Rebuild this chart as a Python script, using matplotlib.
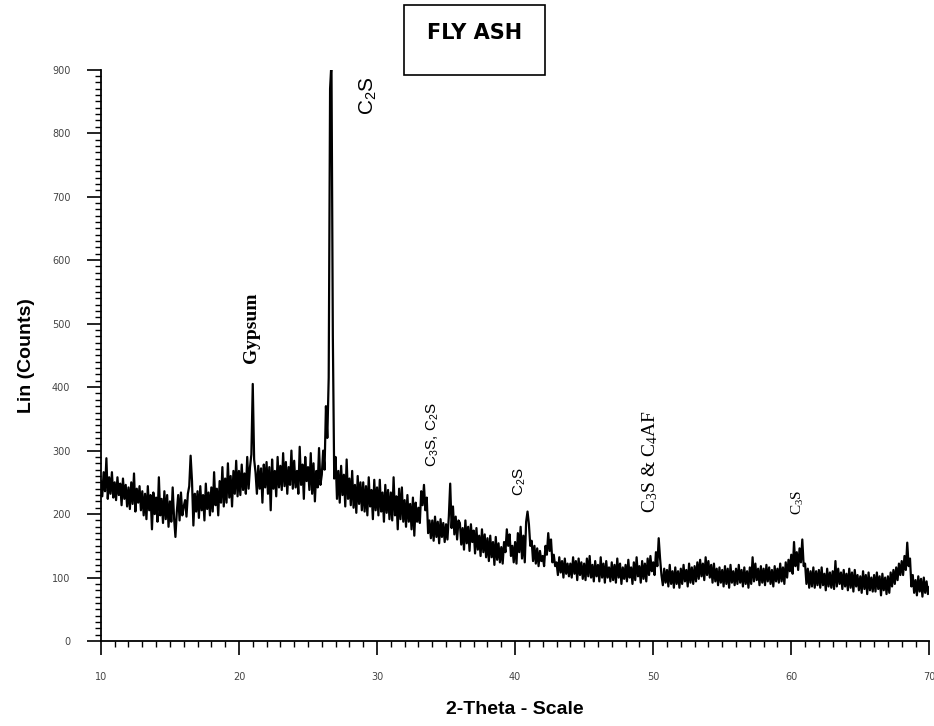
import numpy as np
import matplotlib.pyplot as plt
from matplotlib.patches import Rectangle
from matplotlib.ticker import MultipleLocator

plt.rcParams['mathtext.default'] = 'regular'

# 2-theta scan from 10 to 70 deg, 0.1 deg step
two_theta = np.round(np.arange(10, 70.05, 0.1), 1)

# counts, one row per degree (10.0 .. 10.9, 11.0 .. 11.9, ...)
counts = [
    252, 228, 266, 236, 288, 224, 258, 232, 266, 226,   # 10
    250, 222, 258, 230, 248, 214, 256, 224, 246, 212,   # 11
    242, 208, 250, 216, 264, 204, 240, 218, 244, 206,   # 12
    236, 198, 232, 192, 244, 206, 230, 176, 234, 200,   # 13
    226, 188, 258, 198, 224, 186, 236, 192, 230, 180,   # 14
    220, 188, 242, 194, 164, 204, 230, 190, 234, 198,   # 15
    212, 222, 196, 232, 244, 292, 252, 182, 232, 204,   # 16
    236, 194, 244, 206, 230, 190, 248, 208, 234, 198,   # 17
    242, 204, 266, 214, 240, 198, 252, 218, 274, 212,   # 18
    256, 218, 280, 226, 260, 212, 268, 232, 284, 228,   # 19
    268, 230, 278, 238, 264, 232, 290, 240, 274, 294,   # 20
    405, 286, 266, 232, 276, 240, 272, 218, 278, 242,   # 21
    282, 232, 274, 206, 286, 240, 268, 228, 290, 242,   # 22
    276, 238, 296, 244, 282, 232, 274, 246, 300, 240,   # 23
    284, 242, 268, 232, 306, 246, 278, 224, 290, 252,   # 24
    274, 238, 296, 232, 280, 220, 268, 242, 304, 246,   # 25
    262, 300, 270, 370, 320, 415, 870, 912, 480, 256,   # 26
    290, 224, 268, 218, 276, 230, 262, 212, 286, 224,   # 27
    256, 214, 268, 210, 246, 202, 260, 216, 250, 206,   # 28
    250, 204, 244, 198, 258, 212, 238, 192, 254, 206,   # 29
    242, 198, 254, 204, 234, 188, 246, 202, 238, 192,   # 30
    234, 190, 258, 198, 228, 176, 240, 192, 242, 188,   # 31
    222, 180, 230, 188, 216, 176, 226, 166, 218, 188,   # 32
    210, 186, 236, 214, 246, 206, 226, 170, 190, 162,   # 33
    190, 158, 196, 164, 188, 154, 192, 164, 186, 156,   # 34
    184, 160, 196, 248, 178, 212, 168, 196, 160, 190,   # 35
    186, 152, 178, 144, 190, 154, 180, 142, 184, 156,   # 36
    174, 138, 178, 144, 166, 134, 176, 140, 168, 132,   # 37
    162, 126, 166, 132, 156, 120, 164, 128, 154, 124,   # 38
    148, 122, 156, 140, 176, 150, 168, 134, 150, 124,   # 39
    156, 122, 170, 140, 180, 130, 166, 124, 188, 204,   # 40
    184, 150, 158, 126, 150, 122, 146, 118, 142, 126,   # 41
    134, 118, 150, 136, 170, 142, 160, 124, 136, 118,   # 42
    124, 104, 132, 108, 126, 100, 130, 106, 122, 102,   # 43
    122, 100, 132, 106, 126, 96, 130, 104, 124, 98,     # 44
    122, 96, 130, 102, 134, 100, 120, 94, 126, 102,     # 45
    120, 94, 132, 100, 122, 92, 126, 100, 116, 94,      # 46
    124, 96, 120, 92, 130, 100, 122, 90, 116, 98,       # 47
    120, 94, 128, 100, 116, 90, 124, 96, 132, 102,      # 48
    118, 92, 126, 98, 122, 94, 130, 104, 134, 110,      # 49
    124, 104, 140, 118, 162, 130, 104, 88, 114, 92,     # 50
    112, 86, 120, 90, 110, 84, 116, 90, 110, 84,        # 51
    114, 90, 120, 94, 112, 86, 122, 92, 116, 90,        # 52
    118, 94, 124, 98, 128, 102, 122, 96, 132, 104,      # 53
    126, 100, 120, 92, 122, 94, 114, 88, 116, 92,       # 54
    112, 86, 118, 90, 114, 84, 120, 92, 110, 88,        # 55
    114, 90, 120, 92, 112, 86, 116, 90, 110, 84,        # 56
    116, 90, 132, 94, 122, 96, 114, 88, 118, 92,        # 57
    114, 88, 120, 94, 116, 90, 112, 86, 118, 94,        # 58
    114, 92, 122, 94, 116, 90, 124, 100, 128, 110,      # 59
    136, 106, 156, 118, 140, 112, 146, 124, 160, 118,   # 60
    122, 90, 114, 84, 110, 86, 116, 84, 110, 88,        # 61
    112, 84, 116, 88, 106, 80, 114, 86, 108, 84,        # 62
    110, 82, 126, 86, 114, 90, 108, 82, 112, 86,        # 63
    106, 80, 114, 84, 108, 78, 112, 86, 104, 80,        # 64
    102, 76, 110, 82, 104, 74, 108, 80, 100, 78,        # 65
    104, 78, 108, 82, 102, 72, 106, 80, 100, 74,        # 66
    102, 76, 108, 86, 112, 90, 116, 96, 122, 104,       # 67
    126, 104, 134, 112, 155, 118, 130, 86, 104, 76,     # 68
    96, 72, 102, 78, 98, 70, 100, 76, 94, 74,           # 69
    85,                                                 # 70
]

# phase labels: (text, 2-theta, counts, font family, size, weight)
phase_labels = [
    ("C$_2$S", 29.35, 860, "Liberation Sans", 15, "normal"),
    ("Gypsum", 20.9, 494, "Liberation Serif", 14, "bold"),
    ("C$_3$S, C$_2$S", 34.05, 325, "Liberation Sans", 11, "normal"),
    ("C$_2$S", 40.35, 251, "Liberation Sans", 11, "normal"),
    ("C$_3$S & C$_4$AF", 49.8, 282, "Liberation Serif", 14, "normal"),
    ("C$_3$S", 60.5, 218, "Liberation Serif", 11, "normal"),
]

fig = plt.figure(figsize=(9.34, 7.26), dpi=100)
ax = fig.add_axes([0.108, 0.117, 0.887, 0.787])

ax.plot(two_theta, counts, color="black", lw=1.6)

ax.set_xlim(10, 70)
ax.set_ylim(0, 900)
ax.xaxis.set_major_locator(MultipleLocator(10))
ax.xaxis.set_minor_locator(MultipleLocator(1))
ax.yaxis.set_major_locator(MultipleLocator(100))
ax.yaxis.set_minor_locator(MultipleLocator(10))

for s in ["top", "right"]:
    ax.spines[s].set_visible(False)
for s in ["left", "bottom"]:
    ax.spines[s].set_linewidth(1.3)

ax.tick_params(axis="both", which="major", direction="out", length=10, width=1.2,
               labelsize=7, labelcolor="#444444", pad=12)
ax.tick_params(axis="both", which="minor", direction="out", length=4, width=1.0)

ax.set_xlabel("2-Theta - Scale", fontsize=14, fontweight="bold",
              family="Liberation Sans", labelpad=14)
ax.set_ylabel("Lin (Counts)", fontsize=14, fontweight="bold",
              family="Liberation Sans", labelpad=12)

for txt, xx, yy, fam, size, weight in phase_labels:
    ax.text(xx, yy, txt, rotation=90, ha="center", va="center",
            family=fam, fontsize=size, fontweight=weight)

# boxed title
fig.patches.append(Rectangle((404 / 934, 1 - 75 / 726), 141 / 934, 70 / 726,
                             transform=fig.transFigure, fill=False,
                             edgecolor="black", lw=1.2))
fig.text(475 / 934, 1 - 33 / 726, "FLY ASH", ha="center", va="center",
         fontsize=15, fontweight="bold", family="Liberation Sans Narrow")

fig.savefig("out.png", dpi=100)
